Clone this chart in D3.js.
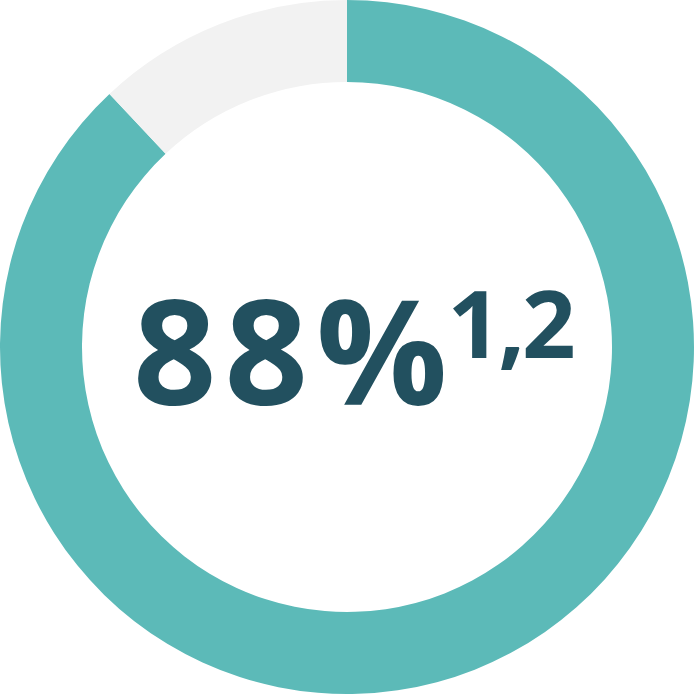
<!DOCTYPE html>
<html>
<head>
<meta charset="utf-8">
<script src="https://cdn.jsdelivr.net/npm/d3@7"></script>
<style>
  html, body { margin: 0; padding: 0; background: #fff; }
</style>
</head>
<body>
<div id="container"></div>
<script>
// données du graphique
const categories = ['yes', 'rest']
const values = [88, 12]
const colors = ['#5CBAB8', '#F2F2F2']
const mainLabel = '88%'
const supLabel = '1,2'

const width = 700, height = 700
const cx = 347, cy = 347
const outerR = 347, innerR = 265

const svg = d3.select('#container').append('svg')
  .attr('width', width)
  .attr('height', height)

const g = svg.append('g')
  .attr('transform', `translate(${cx},${cy})`)

const pie = d3.pie().sort(null).value(d => d)
const arc = d3.arc().innerRadius(innerR).outerRadius(outerR)

const color = d3.scaleOrdinal().domain(categories).range(colors)

g.selectAll('path')
  .data(pie(values))
  .enter().append('path')
  .attr('d', arc)
  .attr('fill', (d, i) => color(categories[i]))

// texte central
const txt = g.append('text')
  .attr('x', -214)
  .attr('y', 58)
  .attr('fill', '#22505F')
  .attr('font-family', 'Open Sans, sans-serif')
  .attr('font-weight', 700)
txt.append('tspan')
  .attr('font-size', 146)
  .attr('letter-spacing', 8)
  .text(mainLabel)
txt.append('tspan')
  .attr('font-size', 94)
  .attr('letter-spacing', -3)
  .attr('dx', -8)
  .attr('dy', -47)
  .text(supLabel)
</script>
</body>
</html>
